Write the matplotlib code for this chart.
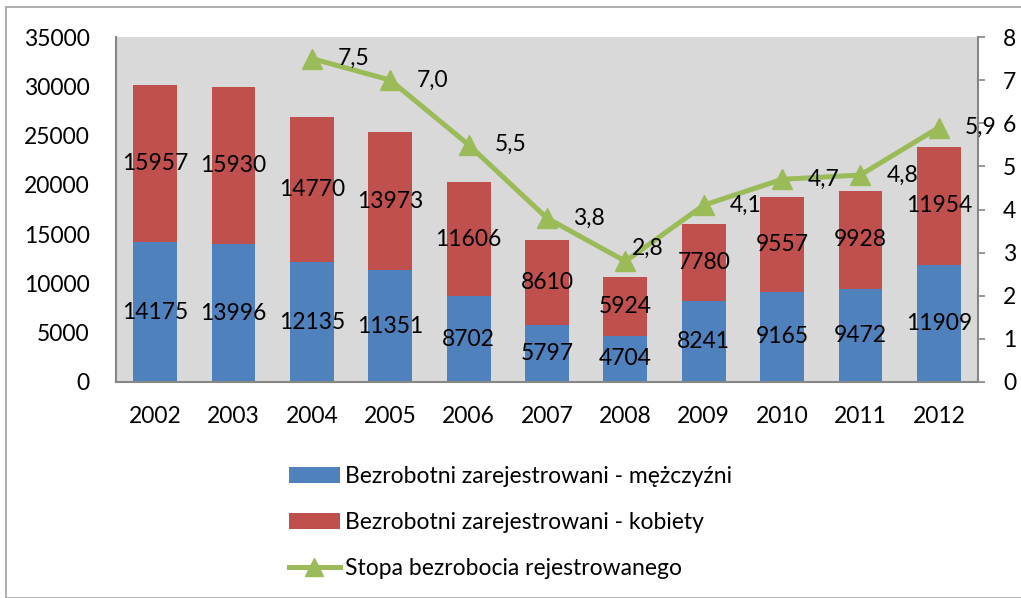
import matplotlib
matplotlib.use("Agg")
import matplotlib.pyplot as plt
from matplotlib.patches import Patch, Rectangle
from matplotlib.lines import Line2D
import numpy as np

years = ["2002", "2003", "2004", "2005", "2006", "2007", "2008", "2009", "2010", "2011", "2012"]
men = [14175, 13996, 12135, 11351, 8702, 5797, 4704, 8241, 9165, 9472, 11909]
women = [15957, 15930, 14770, 13973, 11606, 8610, 5924, 7780, 9557, 9928, 11954]
rate_years = ["2004", "2005", "2006", "2007", "2008", "2009", "2010", "2011", "2012"]
rate = [7.5, 7.0, 5.5, 3.8, 2.8, 4.1, 4.7, 4.8, 5.9]
left_ticks = [0, 5000, 10000, 15000, 20000, 25000, 30000, 35000]
right_ticks = [0, 1, 2, 3, 4, 5, 6, 7, 8]
labels = ["Bezrobotni zarejestrowani - mężczyźni",
          "Bezrobotni zarejestrowani - kobiety",
          "Stopa bezrobocia rejestrowanego"]

# label offsets (pixels) for the rate labels - style only
rate_label_offsets = [(26, 0), (26, 0), (26, 0), (26, 0), (7, 13), (26, 0), (26, 0), (26, 0), (26, 0)]

BLUE = "#4F81BD"
RED = "#C0504D"
GREEN = "#9BBB59"
GRAY = "#868686"
FONT = ["Lato", "DejaVu Sans"]
FS = 16.5

plt.rcParams['font.family'] = FONT

W, H = 1021, 598
fig = plt.figure(figsize=(W / 100, H / 100), dpi=100)
fig.patches.append(Rectangle((6 / W, 0), 2, 1 - 7 / H, transform=fig.transFigure,
                             fill=False, edgecolor="#A0A0A0", linewidth=1.2))

ax = fig.add_axes([116 / W, 1 - 382 / H, (978 - 116) / W, (382 - 37) / H])
ax.set_facecolor("#D9D9D9")
x = np.arange(len(years))
bw = 0.56
ax.bar(x, men, bw, color=BLUE, zorder=2)
ax.bar(x, women, bw, bottom=men, color=RED, zorder=2)
for i in range(len(years)):
    ax.text(x[i], men[i] / 2, str(men[i]), ha="center", va="center", fontsize=FS, zorder=5)
    ax.text(x[i], men[i] + women[i] / 2, str(women[i]), ha="center", va="center", fontsize=FS, zorder=5)

ax.set_xlim(-0.5, len(years) - 0.5)
ax.set_ylim(0, 35000)
ax.set_yticks(left_ticks)
ax.set_yticklabels([str(v) for v in left_ticks], fontsize=FS)
ax.set_xticks(x)
ax.set_xticklabels(years, fontsize=FS)
ax.tick_params(axis="x", length=0, pad=17)
ax.tick_params(axis="y", length=0, pad=19)
for s in ["top", "right"]:
    ax.spines[s].set_visible(False)
for s in ["left", "bottom"]:
    ax.spines[s].set_color(GRAY)
    ax.spines[s].set_linewidth(1.5)

ax2 = ax.twinx()
rx = [years.index(y) for y in rate_years]
ax2.plot(rx, rate, color=GREEN, linewidth=3.6, marker="^", markersize=15, zorder=4)
for xi, v, off in zip(rx, rate, rate_label_offsets):
    ax2.annotate(f"{v:.1f}".replace(".", ","), (xi, v), xytext=off,
                 textcoords="offset pixels", ha="left", va="center", fontsize=FS, zorder=6)
ax2.set_ylim(0, 8)
ax2.set_yticks(right_ticks)
ax2.set_yticklabels([str(v) for v in right_ticks], fontsize=FS)
ax2.tick_params(axis="y", length=5, width=1.2, color=GRAY, pad=13)
for s in ["top", "left", "bottom"]:
    ax2.spines[s].set_visible(False)
ax2.spines["right"].set_color(GRAY)
ax2.spines["right"].set_linewidth(1.5)

handles = [Patch(facecolor=BLUE, edgecolor="none"),
           Patch(facecolor=RED, edgecolor="none"),
           Line2D([0], [0], color=GREEN, linewidth=3.6, marker="^", markersize=13)]
fig.legend(handles, labels, loc="upper left", bbox_to_anchor=(268 / W, 1 - 445 / H),
           frameon=False, fontsize=FS, labelspacing=1.1, handlelength=2.25,
           handleheight=0.7, handletextpad=0.2)

fig.savefig("out.png", dpi=100)
